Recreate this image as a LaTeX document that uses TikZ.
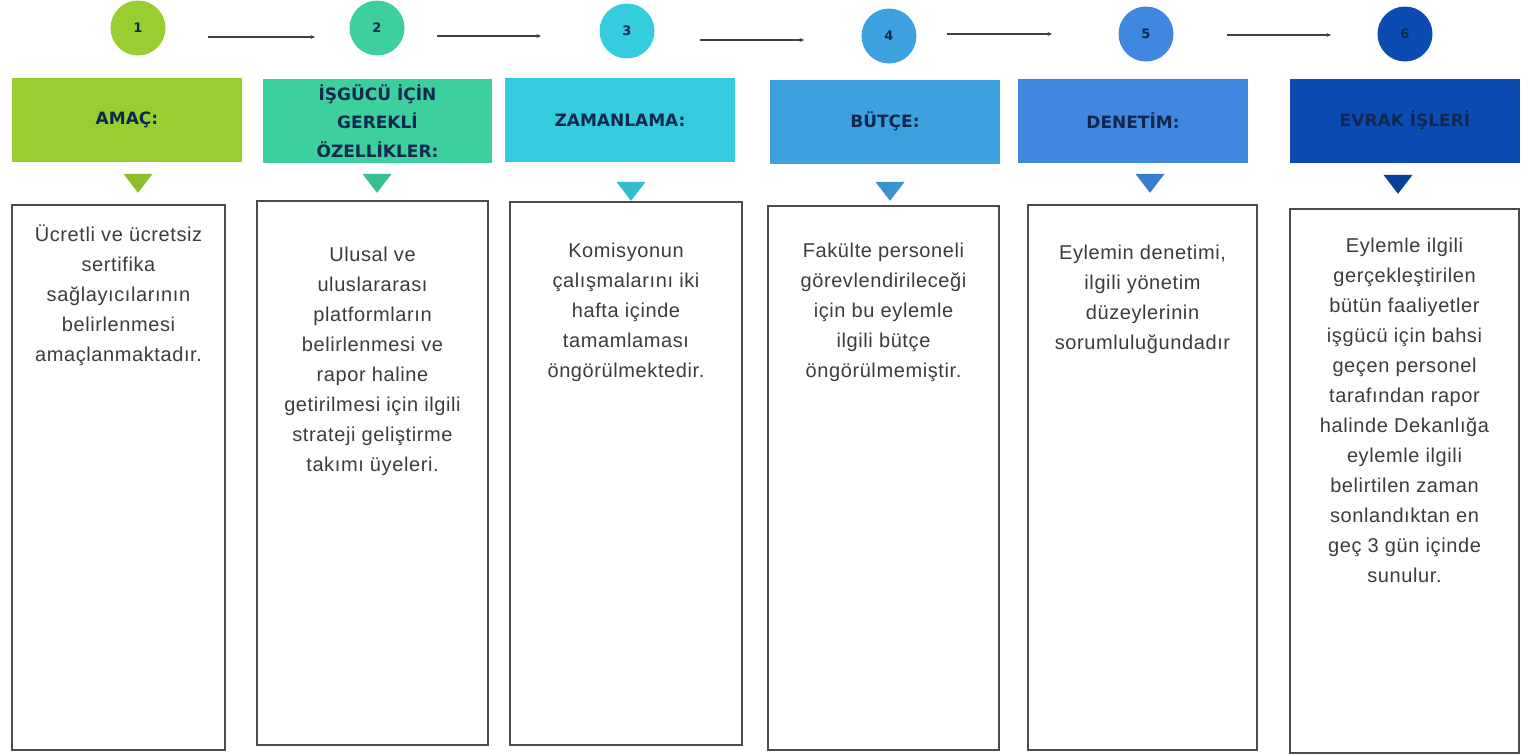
\documentclass[tikz,border=0pt]{standalone}
\usepackage{fontspec}
\setmainfont{Liberation Sans}
\newfontfamily\headfont{DejaVu Sans}
\newfontfamily\bodyfont[LetterSpace=3]{Liberation Sans}
\usepackage{xcolor}
\usepackage{tikz}
\usetikzlibrary{arrows.meta,positioning,shapes.geometric}
\definecolor{PlanLime}{HTML}{9ACD32}
\definecolor{PlanMint}{HTML}{3DCF9E}
\definecolor{PlanCyan}{HTML}{36CCDF}
\definecolor{PlanSky}{HTML}{3EA1DF}
\definecolor{PlanBlue}{HTML}{3F87DF}
\definecolor{PlanNavy}{HTML}{0B4CB2}
\definecolor{PlanInk}{HTML}{10284F}
\definecolor{PlanText}{HTML}{3C3C3C}
\tikzset{
  stepcircle/.style={circle,minimum size=55pt,inner sep=0pt,font=\headfont\bfseries\fontsize{13}{15}\selectfont,text=PlanInk},
  headbox/.style={rectangle,minimum width=230pt,minimum height=84pt,inner sep=2pt,align=center,font=\headfont\bfseries\fontsize{17}{28.5}\selectfont,text=PlanInk},
  pointer/.style={isosceles triangle,isosceles triangle apex angle=75,shape border rotate=270,minimum height=19pt,inner sep=0pt},
  textbox/.style={rectangle,draw=black!70,line width=1.3pt,fill=white},
  boxtext/.style={anchor=north,inner sep=0pt,align=center,text=PlanText,font=\bodyfont\fontsize{20}{30}\selectfont},
  steparrow/.style={-{Stealth[length=4.5pt,width=4pt]},line width=1.3pt,draw=black!75}
}
\begin{document}
\begin{tikzpicture}[x=1pt,y=1pt]
\useasboundingbox (0,0) rectangle (1524,-755);
\node[stepcircle,fill=PlanLime] (c1) at (138,-28) {1};
\node[stepcircle,fill=PlanMint] (c2) at (377,-28) {2};
\node[stepcircle,fill=PlanCyan] (c3) at (627,-31) {3};
\node[stepcircle,fill=PlanSky] (c4) at (889,-36) {4};
\node[stepcircle,fill=PlanBlue] (c5) at (1146,-34) {5};
\node[stepcircle,fill=PlanNavy] (c6) at (1405,-34) {6};
\coordinate (a12) at (208,-37); \coordinate (b12) at (315,-37);
\coordinate (a23) at (437,-36); \coordinate (b23) at (541,-36);
\coordinate (a34) at (700,-40); \coordinate (b34) at (804,-40);
\coordinate (a45) at (947,-34); \coordinate (b45) at (1052,-34);
\coordinate (a56) at (1227,-35); \coordinate (b56) at (1331,-35);
\draw[steparrow] (a12)--(b12);
\draw[steparrow] (a23)--(b23);
\draw[steparrow] (a34)--(b34);
\draw[steparrow] (a45)--(b45);
\draw[steparrow] (a56)--(b56);
\node[headbox,fill=PlanLime] (h1) at (127,-120) {AMAÇ:};
\node[headbox,fill=PlanMint,minimum width=229pt] (h2) at (377.5,-121) {İŞGÜCÜ İÇİN\\GEREKLİ\\ÖZELLİKLER:};
\node[headbox,fill=PlanCyan] (h3) at (620,-120) {ZAMANLAMA:};
\node[headbox,fill=PlanSky] (h4) at (885,-121.5) {BÜTÇE:};
\node[headbox,fill=PlanBlue] (h5) at (1133,-120.5) {DENETİM:};
\node[headbox,fill=PlanNavy] (h6) at (1405,-120.5) {EVRAK İŞLERİ};
\node[pointer,fill=PlanLime!92!black] (p1) at (138,-181) {};
\node[pointer,fill=PlanMint!92!black] (p2) at (377,-181) {};
\node[pointer,fill=PlanCyan!92!black] (p3) at (631,-189) {};
\node[pointer,fill=PlanSky!92!black] (p4) at (890,-189) {};
\node[pointer,fill=PlanBlue!92!black] (p5) at (1150,-181) {};
\node[pointer,fill=PlanNavy!85!black] (p6) at (1398,-182) {};
\node[textbox,minimum width=213pt,minimum height=545pt] (b1) at (118.5,-477.5) {};
\node[textbox,minimum width=231pt,minimum height=544pt] (b2) at (372.5,-473) {};
\node[textbox,minimum width=232pt,minimum height=543pt] (b3) at (626,-473.5) {};
\node[textbox,minimum width=231pt,minimum height=544pt] (b4) at (883.5,-478) {};
\node[textbox,minimum width=229pt,minimum height=545pt] (b5) at (1142.5,-477.5) {};
\node[textbox,minimum width=229pt,minimum height=544pt] (b6) at (1404.5,-481) {};
\node[boxtext] (t1) at ([yshift=-20pt]b1.north) {Ücretli ve ücretsiz\\sertifika\\sağlayıcılarının\\belirlenmesi\\amaçlanmaktadır.};
\node[boxtext] (t2) at ([yshift=-46pt]b2.north) {Ulusal ve\\uluslararası\\platformların\\belirlenmesi ve\\rapor haline\\getirilmesi için ilgili\\strateji geliştirme\\takımı üyeleri.};
\node[boxtext] (t3) at ([yshift=-41pt]b3.north) {Komisyonun\\çalışmalarını iki\\hafta içinde\\tamamlaması\\öngörülmektedir.};
\node[boxtext] (t4) at ([yshift=-37pt]b4.north) {Fakülte personeli\\görevlendirileceği\\için bu eylemle\\ilgili bütçe\\öngörülmemiştir.};
\node[boxtext] (t5) at ([yshift=-40pt]b5.north) {Eylemin denetimi,\\ilgili yönetim\\düzeylerinin\\sorumluluğundadır};
\node[boxtext] (t6) at ([yshift=-29pt]b6.north) {Eylemle ilgili\\gerçekleştirilen\\bütün faaliyetler\\işgücü için bahsi\\geçen personel\\tarafından rapor\\halinde Dekanlığa\\eylemle ilgili\\belirtilen zaman\\sonlandıktan en\\geç 3 gün içinde\\sunulur.};
\end{tikzpicture}
\end{document}
